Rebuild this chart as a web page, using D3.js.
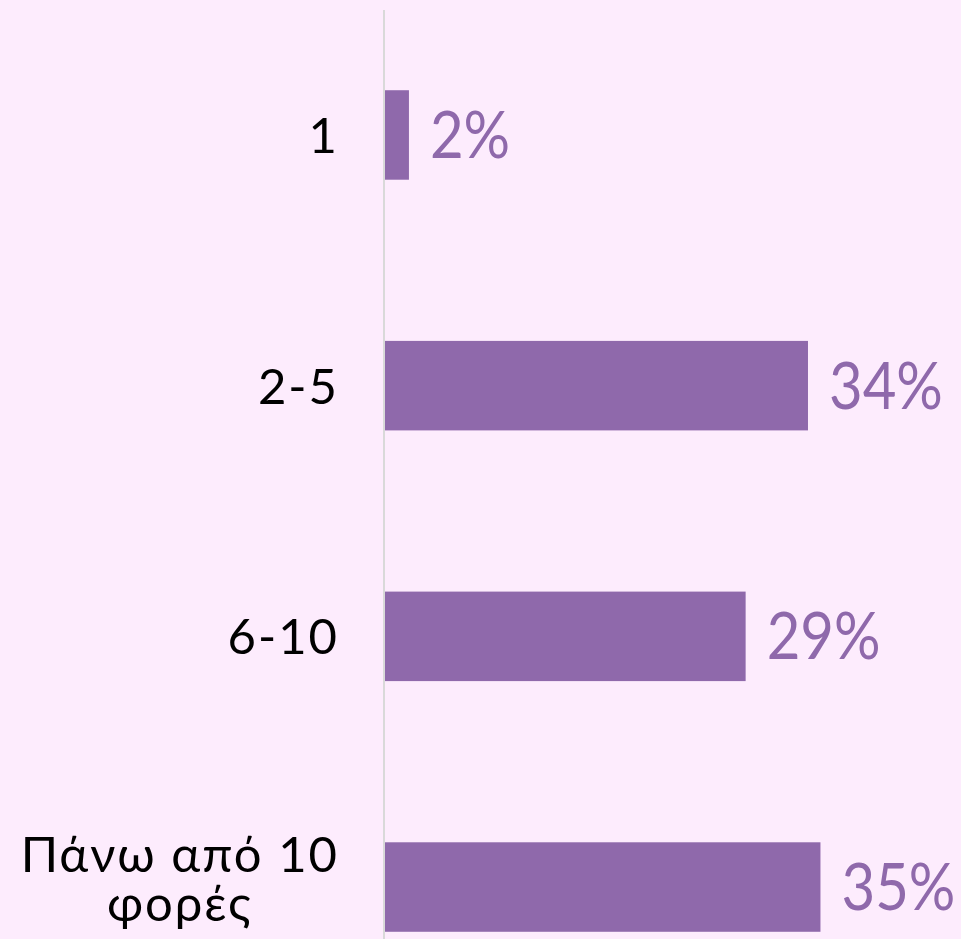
<!DOCTYPE html>
<html>
<head>
<meta charset="utf-8">
<script src="https://cdn.jsdelivr.net/npm/d3@7"></script>
<style>
  html, body { margin: 0; padding: 0; background: #fdecfd; }
  svg { display: block; }
  .cat { font-family: "Lato", "DejaVu Sans", sans-serif; font-size: 49px; fill: #000; letter-spacing: 2px; }
  .val { font-family: "Lato", "DejaVu Sans", sans-serif; font-size: 66px; fill: #8f69ab; }
</style>
</head>
<body>
<svg id="chart"></svg>
<script>
const categories = ["1", "2-5", "6-10", "Πάνω από 10 φορές"];
const categoryLines = [["1"], ["2-5"], ["6-10"], ["Πάνω από 10", "φορές"]];
const values = [2, 34, 29, 35];

const width = 961, height = 939;
const svg = d3.select("#chart").attr("width", width).attr("height", height);

svg.append("rect").attr("width", width).attr("height", height).attr("fill", "#fdecfd");

const x = d3.scaleLinear()
    .domain([0, 40])
    .range([384, 384 + 498.8]);

const y = d3.scaleBand()
    .domain(categories)
    .range([10, 1012])
    .paddingInner(0.643)
    .paddingOuter(0.32);

// axis line
svg.append("line")
    .attr("x1", 384).attr("x2", 384)
    .attr("y1", 10).attr("y2", 1012)
    .attr("stroke", "#d9d9d9")
    .attr("stroke-width", 2);

svg.selectAll("rect.bar")
    .data(values)
    .join("rect")
    .attr("class", "bar")
    .attr("x", x(0) + 1)
    .attr("y", (d, i) => y(categories[i]))
    .attr("width", d => x(d) - x(0) - 1)
    .attr("height", y.bandwidth())
    .attr("fill", "#8f69ab");

// value labels
svg.selectAll("text.val")
    .data(values)
    .join("text")
    .attr("class", "val")
    .attr("transform", (d, i) => "translate(" + (x(d) + 21) + "," + (y(categories[i]) + y.bandwidth() / 2 + 23) + ") scale(0.88,1)")
    .text(d => d + "%");

// category labels
const labelRight = 339;
categoryLines.forEach(function (lines, i) {
    const cy = y(categories[i]) + y.bandwidth() / 2;
    if (lines.length === 1) {
        svg.append("text").attr("class", "cat")
            .attr("text-anchor", "end")
            .attr("x", labelRight)
            .attr("y", cy + 18)
            .text(lines[0]);
    } else {
        const lh = 49;
        const g = svg.append("g");
        lines.forEach(function (l, j) {
            g.append("text").attr("class", "cat")
                .attr("text-anchor", "middle")
                .attr("x", 0)
                .attr("y", cy - 15 + j * lh)
                .text(l);
        });
        const w = g.node().getBBox().width;
        g.attr("transform", "translate(" + (labelRight - w / 2) + ",0)");
    }
});
</script>
</body>
</html>
